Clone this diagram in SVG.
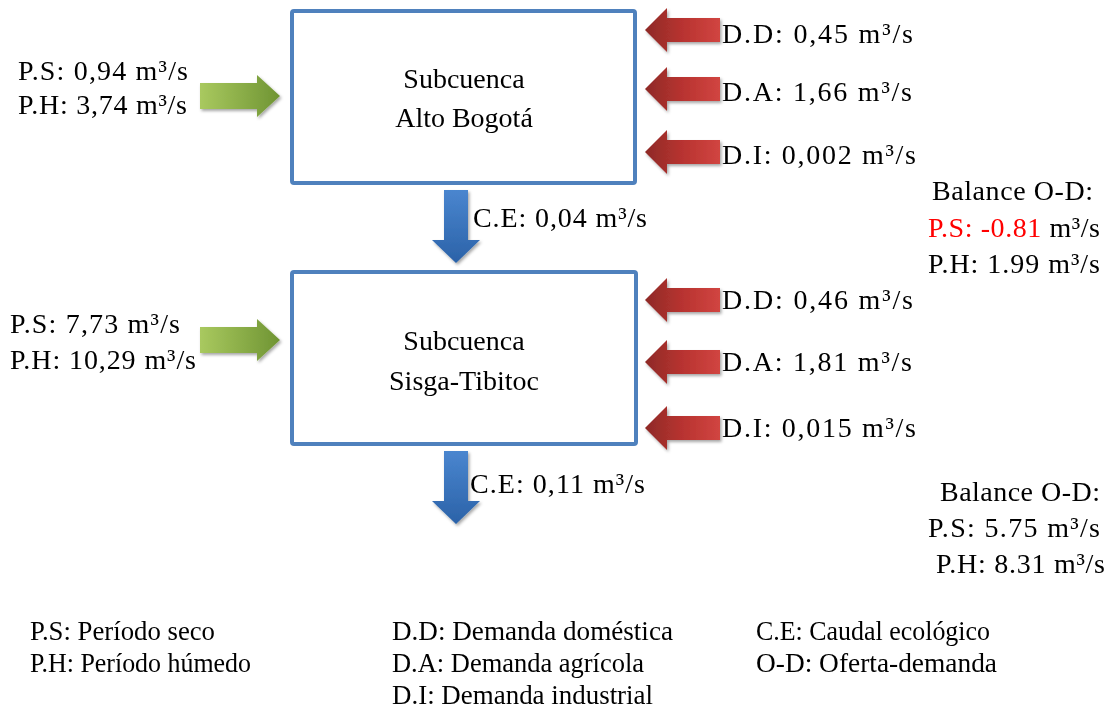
<svg xmlns="http://www.w3.org/2000/svg" width="1108" height="709" viewBox="0 0 1108 709" font-family="'Liberation Serif', 'Times New Roman', serif">
<style>
text{font-family:"Liberation Serif","Times New Roman",serif;font-size:28px;fill:#000}
.box{fill:#fff;stroke:#4f81bd;stroke-width:4}
.c{text-anchor:middle}
.red{fill:#ff0000}
</style>
<defs>
<linearGradient id="gr" x1="0" y1="0" x2="1" y2="0">
<stop offset="0" stop-color="#8e2a27"/><stop offset="0.5" stop-color="#b83330"/><stop offset="1" stop-color="#d14541"/>
</linearGradient>
<linearGradient id="gg" x1="0" y1="0" x2="1" y2="0">
<stop offset="0" stop-color="#a9c95f"/><stop offset="1" stop-color="#6f9433"/>
</linearGradient>
<linearGradient id="gb" x1="0" y1="0" x2="0" y2="1">
<stop offset="0" stop-color="#4a86cf"/><stop offset="1" stop-color="#2b62a8"/>
</linearGradient>
<filter id="sh" x="-20%" y="-20%" width="150%" height="150%">
<feDropShadow dx="1.5" dy="2" stdDeviation="1.5" flood-color="#000" flood-opacity="0.35"/>
</filter>
<path id="ra" d="M0,0 L22,-22 L22,-12 L75,-12 L75,12 L22,12 L22,22 Z"/>
<path id="ga" d="M0,-13 L57,-13 L57,-21 L80,0 L57,21 L57,13 L0,13 Z"/>
<path id="ba" d="M-12,0 L12,0 L12,50 L24,50 L0,73 L-24,50 L-12,50 Z"/>
</defs>

<g id="connectors">
<g fill="url(#gr)" filter="url(#sh)">
<use href="#ra" x="645" y="30"/>
<use href="#ra" x="645" y="89"/>
<use href="#ra" x="645" y="152"/>
<use href="#ra" x="645" y="300"/>
<use href="#ra" x="645" y="362"/>
<use href="#ra" x="645" y="428"/>
</g>
<g fill="url(#gg)" filter="url(#sh)">
<use href="#ga" x="200" y="96"/>
<use href="#ga" x="200" y="340"/>
</g>
<g fill="url(#gb)" filter="url(#sh)">
<use href="#ba" x="456" y="190"/>
<use href="#ba" x="456" y="451"/>
</g>
</g>

<g id="node-alto">
<rect class="box" x="292" y="11" width="343" height="172" rx="2"/>
<text class="c" x="464" y="88">Subcuenca</text>
<text class="c" x="464" y="127">Alto Bogotá</text>
</g>
<g id="node-sisga">
<rect class="box" x="292" y="272" width="344" height="172" rx="2"/>
<text class="c" x="464" y="350">Subcuenca</text>
<text class="c" x="464" y="390">Sisga-Tibitoc</text>
</g>

<g id="labels-alto">
<text x="18" y="80" textLength="170" lengthAdjust="spacing">P.S: 0,94 m³/s</text>
<text x="18" y="114" textLength="169" lengthAdjust="spacing">P.H: 3,74 m³/s</text>
<text x="722" y="43" textLength="191" lengthAdjust="spacing">D.D: 0,45 m³/s</text>
<text x="722" y="101" textLength="190" lengthAdjust="spacing">D.A: 1,66 m³/s</text>
<text x="722" y="164" textLength="194" lengthAdjust="spacing">D.I: 0,002 m³/s</text>
<text x="473" y="227" textLength="174" lengthAdjust="spacing">C.E: 0,04 m³/s</text>
<text x="932" y="200" textLength="161" lengthAdjust="spacing">Balance O-D:</text>
<text x="928" y="237" textLength="172" lengthAdjust="spacing"><tspan class="red">P.S: -0.81</tspan> m³/s</text>
<text x="928" y="273" textLength="172" lengthAdjust="spacing">P.H: 1.99 m³/s</text>
</g>

<g id="labels-sisga">
<text x="10" y="333" textLength="170" lengthAdjust="spacing">P.S: 7,73 m³/s</text>
<text x="10" y="369" textLength="186" lengthAdjust="spacing">P.H: 10,29 m³/s</text>
<text x="722" y="309" textLength="191" lengthAdjust="spacing">D.D: 0,46 m³/s</text>
<text x="722" y="371" textLength="190" lengthAdjust="spacing">D.A: 1,81 m³/s</text>
<text x="722" y="437" textLength="194" lengthAdjust="spacing">D.I: 0,015 m³/s</text>
<text x="470" y="493" textLength="175" lengthAdjust="spacing">C.E: 0,11 m³/s</text>
<text x="940" y="501" textLength="160" lengthAdjust="spacing">Balance O-D:</text>
<text x="928" y="537" textLength="172" lengthAdjust="spacing">P.S: 5.75 m³/s</text>
<text x="936" y="573" textLength="169" lengthAdjust="spacing">P.H: 8.31 m³/s</text>
</g>

<g id="legend">
<text x="30" y="640" textLength="185" lengthAdjust="spacingAndGlyphs">P.S: Período seco</text>
<text x="30" y="672" textLength="221" lengthAdjust="spacingAndGlyphs">P.H: Período húmedo</text>
<text x="392" y="640" textLength="281" lengthAdjust="spacingAndGlyphs">D.D: Demanda doméstica</text>
<text x="392" y="672" textLength="252" lengthAdjust="spacingAndGlyphs">D.A: Demanda agrícola</text>
<text x="392" y="704" textLength="261" lengthAdjust="spacingAndGlyphs">D.I: Demanda industrial</text>
<text x="756" y="640" textLength="234" lengthAdjust="spacingAndGlyphs">C.E: Caudal ecológico</text>
<text x="756" y="672" textLength="241" lengthAdjust="spacingAndGlyphs">O-D: Oferta-demanda</text>
</g>
</svg>
